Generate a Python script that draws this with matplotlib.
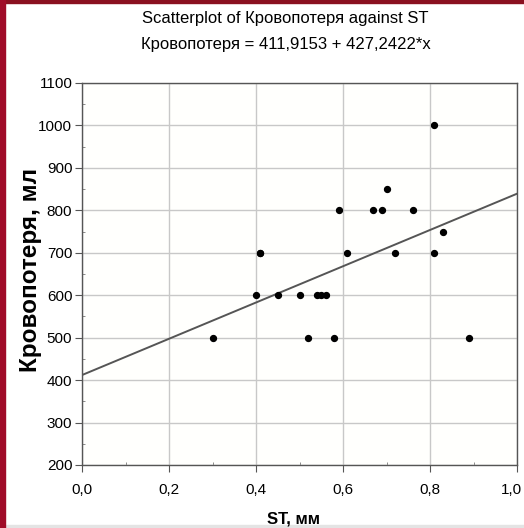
import numpy as np
import matplotlib
matplotlib.use("Agg")
import matplotlib.pyplot as plt
import matplotlib.transforms as mtransforms
from matplotlib.patches import Rectangle

# data
st = [0.30, 0.40, 0.41, 0.41, 0.45, 0.50, 0.52, 0.54, 0.55, 0.56, 0.58, 0.59,
      0.61, 0.67, 0.69, 0.70, 0.72, 0.76, 0.81, 0.81, 0.83, 0.89]
blood = [500, 600, 700, 700, 600, 600, 500, 600, 600, 600, 500, 800,
         700, 800, 800, 850, 700, 800, 1000, 700, 750, 500]
intercept = 411.9153
slope = 427.2422

xticks = [0.0, 0.2, 0.4, 0.6, 0.8, 1.0]
xtick_labels = ["0,0", "0,2", "0,4", "0,6", "0,8", "1,0"]
yticks = [200, 300, 400, 500, 600, 700, 800, 900, 1000, 1100]

sans = ["Liberation Sans", "DejaVu Sans"]

fig = plt.figure(figsize=(5.24, 5.28), dpi=100)
fig.patch.set_facecolor("white")
# frame of the slide
fig.add_artist(Rectangle((0, 1 - 3/528), 1, 3/528, transform=fig.transFigure, color="#8a1020", zorder=0))
fig.add_artist(Rectangle((0, 0), 1, 3/528, transform=fig.transFigure, color="#e4e4e4", zorder=0))
fig.add_artist(Rectangle((0, 0), 5/524, 1, transform=fig.transFigure, color="#a00c28", zorder=1))

ax = fig.add_axes([82/524, 1 - 465/528, 435/524, 382/528])
ax.set_facecolor("#fffffd")

xx = np.array([0.0, 1.0])
ax.plot(xx, intercept + slope * xx, color="#555555", lw=1.4, zorder=2)
ax.scatter(st, blood, s=18, color="black", zorder=3)

ax.set_xlim(0, 1)
ax.set_ylim(200, 1100)
ax.set_xticks(xticks)
ax.set_xticklabels(xtick_labels)
ax.set_yticks(yticks)
ax.set_xticks(np.arange(0.1, 1.0, 0.2), minor=True)
ax.set_yticks(np.arange(250, 1100, 50), minor=True)
ax.grid(True, which="major", color="#c8c8c8", lw=1.0, zorder=0)
ax.tick_params(which="major", direction="out", length=5, color="#555555", labelsize=11)
ax.tick_params(axis="x", which="major", pad=8)
ax.tick_params(axis="y", which="major", pad=2)
ax.tick_params(which="minor", direction="in", length=2, color="#777777")
for lab in ax.get_xticklabels() + ax.get_yticklabels():
    lab.set_family(sans)
# keep the last x label inside the picture
last = ax.get_xticklabels()[-1]
last.set_transform(last.get_transform() + mtransforms.ScaledTranslation(-6/100, 0, fig.dpi_scale_trans))

for sp in ax.spines.values():
    sp.set_color("#555555")
    sp.set_linewidth(1.0)

ax.set_xlabel("ST, мм", family=sans, fontweight="bold", fontsize=12)
ax.xaxis.set_label_coords(0.487, -(519 - 465) / 382, transform=ax.transAxes)
ax.xaxis.label.set_va("center")
ax.set_ylabel("Кровопотеря, мл", family=sans, fontweight="bold", fontsize=17.5)
ax.yaxis.set_label_coords((31 - 82) / 435, (465 - 270) / 382, transform=ax.transAxes)
ax.yaxis.label.set_va("center")

fig.text(0.545, 1 - 18/528, "Scatterplot of Кровопотеря against ST", family=sans,
         fontsize=12, ha="center", va="center")
fig.text(0.545, 1 - 45/528, "Кровопотеря = 411,9153 + 427,2422*x", family=sans,
         fontsize=12, ha="center", va="center")

fig.savefig("out.png", dpi=100)
